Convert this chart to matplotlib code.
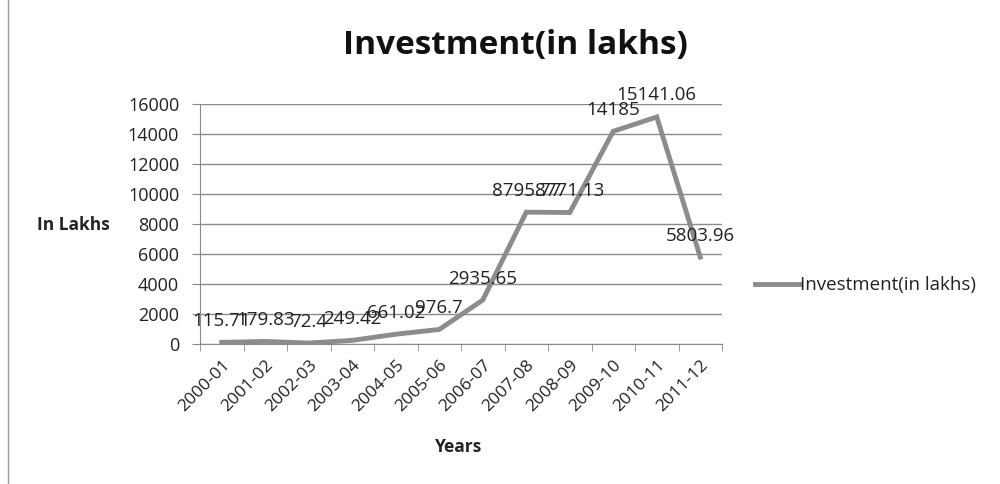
import numpy as np
import matplotlib
matplotlib.use("Agg")
import matplotlib.pyplot as plt
from matplotlib.patches import Rectangle

years = ["2000-01", "2001-02", "2002-03", "2003-04", "2004-05", "2005-06",
         "2006-07", "2007-08", "2008-09", "2009-10", "2010-11", "2011-12"]
investment = [115.71, 179.83, 72.4, 249.42, 661.02, 976.7,
              2935.65, 8795.77, 8771.13, 14185, 15141.06, 5803.96]
label_text = ["115.71", "179.83", "72.4", "249.42", "661.02", "976.7",
              "2935.65", "8795.77", "8771.13", "14185", "15141.06", "5803.96"]
y_ticks = list(range(0, 16001, 2000))

plt.rcParams["font.family"] = ["Open Sans", "DejaVu Sans"]

fig = plt.figure(figsize=(10, 4.84), dpi=100)
ax = fig.add_axes([0.200, 0.289, 0.522, 0.496])

x = np.arange(len(years))
line_col = "#8c8c8c"
ax.plot(x, investment, color=line_col, lw=3.5, solid_joinstyle="miter",
        label="Investment(in lakhs)", zorder=3)

# value labels sit above each point (they crowd together on the flat part)
for xi, yi, t in zip(x, investment, label_text):
    ax.annotate(t, (xi, yi), xytext=(0, 15.5), textcoords="offset points",
                ha="center", va="center", fontsize=13.5, color="#222222")

ax.set_xlim(-0.5, len(years) - 0.5)
ax.set_ylim(0, 16000)
ax.set_yticks(y_ticks)
ax.set_yticklabels([str(v) for v in y_ticks], fontsize=13, color="#222222")
ax.yaxis.grid(True, color="#8a8a8a", lw=1)
ax.set_axisbelow(True)

ax.set_xticks(x)
ax.set_xticklabels(years, rotation=45, ha="right", rotation_mode="anchor",
                   fontsize=12.5, color="#222222")
ax.set_xticks(np.arange(-0.5, len(years)), minor=True)
ax.tick_params(axis="x", which="major", length=0, pad=9)
ax.tick_params(axis="x", which="minor", length=5, color="#8a8a8a")
ax.tick_params(axis="y", length=6, color="#8a8a8a", pad=9)

for s in ["top", "right"]:
    ax.spines[s].set_visible(False)
for s in ["left", "bottom"]:
    ax.spines[s].set_color("#8a8a8a")

fig.text(0.515, 0.905, "Investment(in lakhs)", ha="center", va="center",
         fontsize=24, fontweight="bold", color="#111111")
fig.text(0.073, 0.535, "In Lakhs", ha="center", va="center",
         fontsize=12.5, fontweight="bold", color="#222222")
fig.text(0.459, 0.077, "Years", ha="center", va="center",
         fontsize=12.5, fontweight="bold", color="#222222")

leg = ax.legend(loc="center left", bbox_to_anchor=(1.03, 0.245), frameon=False,
                fontsize=13.5, handlelength=2.4, handletextpad=0.05)
for txt in leg.get_texts():
    txt.set_color("#222222")

# chart border
fig.patches.append(Rectangle((0.008, -0.01), 1.1, 1.1, transform=fig.transFigure,
                             fill=False, ec="#9a9a9a", lw=1))

fig.savefig("out.png", dpi=100)
